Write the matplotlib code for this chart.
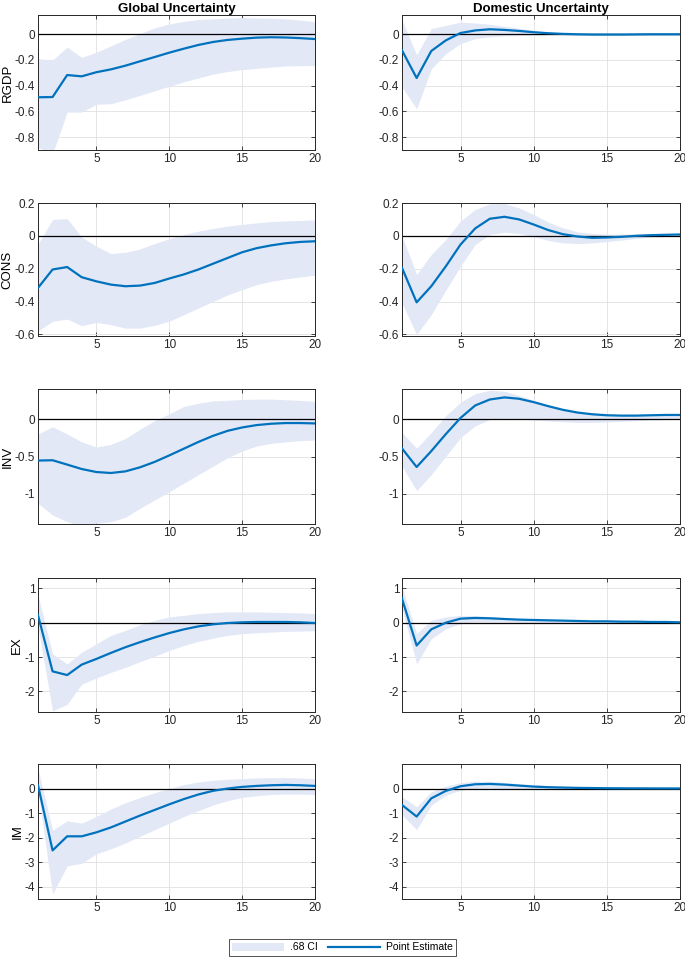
import numpy as np
import matplotlib
matplotlib.use("Agg")
import matplotlib.pyplot as plt
from matplotlib.patches import Patch
from matplotlib.lines import Line2D

plt.rcParams['font.family'] = ['Liberation Sans', 'DejaVu Sans']

horizon = np.arange(1, 21)
variables = ["RGDP", "CONS", "INV", "EX", "IM"]
columns = ["Global Uncertainty", "Domestic Uncertainty"]

# RGDP
rgdp_glob_mid = [-0.49, -0.488, -0.317, -0.327, -0.295, -0.273, -0.244, -0.21, -0.177, -0.143,
                 -0.112, -0.083, -0.06, -0.044, -0.034, -0.026, -0.023, -0.025, -0.03, -0.037]
rgdp_glob_hi = [-0.19, -0.2, -0.1, -0.18, -0.14, -0.09, -0.04, 0.005, 0.05, 0.08,
                0.1, 0.115, 0.12, 0.125, 0.13, 0.127, 0.125, 0.12, 0.11, 0.1]
rgdp_glob_lo = [-0.88, -0.93, -0.605, -0.605, -0.545, -0.54, -0.51, -0.475, -0.44, -0.405,
                -0.37, -0.34, -0.31, -0.29, -0.275, -0.265, -0.255, -0.247, -0.244, -0.244]
rgdp_dom_mid = [-0.125, -0.34, -0.13, -0.047, 0.01, 0.03, 0.039, 0.034, 0.026, 0.016,
                0.008, 0.003, 0.0, -0.002, -0.002, -0.002, -0.001, 0.0, 0.0, 0.0]
rgdp_dom_hi = [0.11, -0.16, 0.044, 0.07, 0.094, 0.088, 0.078, 0.062, 0.047, 0.031,
               0.018, 0.01, 0.005, 0.003, 0.003, 0.003, 0.003, 0.003, 0.003, 0.003]
rgdp_dom_lo = [-0.41, -0.58, -0.27, -0.15, -0.073, -0.034, -0.02, -0.013, -0.01, -0.008,
               -0.005, -0.004, -0.004, -0.004, -0.004, -0.004, -0.003, -0.003, -0.003, -0.003]

# CONS
cons_glob_mid = [-0.317, -0.205, -0.19, -0.252, -0.277, -0.297, -0.307, -0.303, -0.287, -0.26,
                 -0.235, -0.205, -0.17, -0.135, -0.1, -0.075, -0.058, -0.045, -0.037, -0.033]
cons_glob_hi = [-0.05, 0.1, 0.105, -0.008, -0.063, -0.108, -0.1, -0.08, -0.047, -0.018,
                0.008, 0.028, 0.045, 0.059, 0.069, 0.079, 0.087, 0.091, 0.094, 0.098]
cons_glob_lo = [-0.58, -0.52, -0.507, -0.547, -0.527, -0.541, -0.562, -0.562, -0.545, -0.52,
                -0.48, -0.44, -0.4, -0.36, -0.328, -0.297, -0.277, -0.262, -0.25, -0.24]
cons_dom_mid = [-0.195, -0.405, -0.307, -0.185, -0.053, 0.045, 0.104, 0.116, 0.1, 0.069,
                0.035, 0.01, -0.004, -0.012, -0.01, -0.006, 0.0, 0.004, 0.006, 0.008]
cons_dom_hi = [0.0, -0.236, -0.114, -0.022, 0.09, 0.16, 0.195, 0.197, 0.17, 0.13,
               0.083, 0.049, 0.024, 0.014, 0.01, 0.01, 0.012, 0.014, 0.016, 0.018]
cons_dom_lo = [-0.41, -0.6, -0.48, -0.33, -0.185, -0.053, 0.008, 0.022, 0.014, -0.006,
               -0.028, -0.043, -0.047, -0.043, -0.035, -0.026, -0.016, -0.008, -0.004, -0.002]

# INV
inv_glob_mid = [-0.554, -0.55, -0.608, -0.667, -0.707, -0.72, -0.698, -0.644, -0.572, -0.486,
                -0.396, -0.306, -0.225, -0.158, -0.113, -0.081, -0.063, -0.054, -0.054, -0.059]
inv_glob_hi = [-0.2, -0.104, -0.2, -0.306, -0.374, -0.338, -0.26, -0.135, -0.023, 0.068,
               0.167, 0.21, 0.24, 0.25, 0.26, 0.265, 0.265, 0.257, 0.248, 0.234]
inv_glob_lo = [-1.126, -1.28, -1.37, -1.43, -1.39, -1.37, -1.31, -1.19, -1.08, -0.97,
               -0.856, -0.743, -0.63, -0.518, -0.428, -0.36, -0.324, -0.306, -0.288, -0.28]
inv_dom_mid = [-0.392, -0.64, -0.428, -0.2, 0.014, 0.18, 0.26, 0.288, 0.27, 0.225,
               0.171, 0.122, 0.086, 0.063, 0.05, 0.045, 0.045, 0.05, 0.054, 0.054]
inv_dom_hi = [-0.18, -0.39, -0.18, 0.045, 0.225, 0.338, 0.383, 0.37, 0.315, 0.248,
              0.18, 0.126, 0.09, 0.068, 0.059, 0.054, 0.054, 0.059, 0.059, 0.063]
inv_dom_lo = [-0.63, -0.955, -0.743, -0.495, -0.248, -0.09, -0.009, 0.009, 0.0, -0.014,
              -0.027, -0.036, -0.045, -0.045, -0.04, -0.032, -0.023, -0.014, -0.009, -0.005]

# EX
ex_glob_mid = [0.215, -1.417, -1.525, -1.22, -1.056, -0.88, -0.714, -0.567, -0.43, -0.303,
               -0.195, -0.108, -0.049, -0.01, 0.01, 0.02, 0.02, 0.02, 0.01, -0.01]
ex_glob_hi = [0.8, -0.91, -1.2, -0.86, -0.616, -0.37, -0.225, -0.059, 0.068, 0.166,
              0.215, 0.264, 0.293, 0.313, 0.313, 0.313, 0.303, 0.293, 0.283, 0.264]
ex_glob_lo = [-0.127, -2.57, -2.375, -1.79, -1.61, -1.447, -1.3, -1.134, -0.978, -0.81,
              -0.665, -0.547, -0.45, -0.371, -0.322, -0.293, -0.274, -0.254, -0.244, -0.235]
ex_dom_mid = [0.7, -0.665, -0.195, 0.0, 0.117, 0.137, 0.127, 0.107, 0.088, 0.078,
              0.068, 0.059, 0.049, 0.039, 0.039, 0.03, 0.03, 0.02, 0.02, 0.01]
ex_dom_hi = [1.05, -0.32, 0.07, 0.166, 0.215, 0.205, 0.176, 0.147, 0.117, 0.098,
             0.088, 0.078, 0.068, 0.059, 0.049, 0.04, 0.035, 0.03, 0.028, 0.025]
ex_dom_lo = [0.41, -1.2, -0.47, -0.176, -0.03, 0.02, 0.02, 0.02, 0.01, 0.005,
             0.005, 0.004, 0.003, 0.002, 0.001, 0.0, 0.0, 0.0, -0.002, -0.003]

# IM
im_glob_mid = [0.134, -2.52, -1.946, -1.946, -1.785, -1.584, -1.342, -1.1, -0.872, -0.644,
               -0.43, -0.242, -0.094, 0.0, 0.067, 0.107, 0.134, 0.148, 0.134, 0.107]
im_glob_hi = [0.8, -1.7, -1.315, -1.41, -1.14, -0.832, -0.577, -0.362, -0.174, 0.0,
              0.161, 0.268, 0.336, 0.376, 0.403, 0.43, 0.443, 0.443, 0.43, 0.403]
im_glob_lo = [-0.067, -4.3, -3.15, -3.05, -2.66, -2.456, -2.215, -1.946, -1.678, -1.41,
              -1.14, -0.9, -0.671, -0.497, -0.362, -0.295, -0.242, -0.228, -0.228, -0.242]
im_dom_mid = [-0.67, -1.14, -0.4, -0.094, 0.094, 0.174, 0.188, 0.161, 0.12, 0.08,
              0.054, 0.04, 0.027, 0.02, 0.013, 0.01, 0.008, 0.006, 0.005, 0.004]
im_dom_hi = [-0.335, -0.74, -0.134, 0.094, 0.24, 0.295, 0.295, 0.255, 0.2, 0.16,
             0.12, 0.094, 0.08, 0.067, 0.054, 0.04, 0.035, 0.03, 0.027, 0.025]
im_dom_lo = [-1.07, -1.68, -0.67, -0.27, -0.067, 0.0, 0.0, -0.013, -0.02, -0.02,
             -0.018, -0.015, -0.013, -0.01, -0.008, -0.006, -0.005, -0.004, -0.003, -0.002]

panels = [
    [(rgdp_glob_lo, rgdp_glob_mid, rgdp_glob_hi), (rgdp_dom_lo, rgdp_dom_mid, rgdp_dom_hi)],
    [(cons_glob_lo, cons_glob_mid, cons_glob_hi), (cons_dom_lo, cons_dom_mid, cons_dom_hi)],
    [(inv_glob_lo, inv_glob_mid, inv_glob_hi), (inv_dom_lo, inv_dom_mid, inv_dom_hi)],
    [(ex_glob_lo, ex_glob_mid, ex_glob_hi), (ex_dom_lo, ex_dom_mid, ex_dom_hi)],
    [(im_glob_lo, im_glob_mid, im_glob_hi), (im_dom_lo, im_dom_mid, im_dom_hi)],
]
ylims = [(-0.9, 0.15), (-0.61, 0.2), (-1.4, 0.4), (-2.6, 1.3), (-4.5, 1.0)]
yticks = [[-0.8, -0.6, -0.4, -0.2, 0], [-0.6, -0.4, -0.2, 0, 0.2], [-1, -0.5, 0],
          [-2, -1, 0, 1], [-4, -3, -2, -1, 0]]

band_color = '#E3E8F7'
line_color = '#0072BD'

fig = plt.figure(figsize=(6.85, 9.6), dpi=100)
W, H = 685.0, 960.0
col_x = [(38, 315), (402, 680)]
row_y = [(15, 150), (203, 336), (389, 524), (578, 712), (764, 899)]

for r in range(5):
    for c in range(2):
        x0, x1 = col_x[c]
        y0, y1 = row_y[r]
        ax = fig.add_axes([x0 / W, 1 - y1 / H, (x1 - x0) / W, (y1 - y0) / H])
        lo, mid, hi = panels[r][c]
        ax.fill_between(horizon, lo, hi, color=band_color, lw=0, zorder=1)
        ax.axhline(0, color='black', lw=0.9, zorder=2)
        ax.plot(horizon, mid, color=line_color, lw=1.6, zorder=3)
        ax.set_xlim(1, 20)
        ax.set_ylim(*ylims[r])
        ax.set_xticks([5, 10, 15, 20])
        ax.set_yticks(yticks[r])
        ax.set_yticklabels([f"{v:g}" for v in yticks[r]])
        ax.grid(True, color='#e0e0e0', lw=0.6, zorder=0)
        ax.set_axisbelow(True)
        ax.tick_params(direction='in', length=3, width=0.6, labelsize=8.5,
                       top=True, right=True, pad=2, colors='#262626')
        for s in ax.spines.values():
            s.set_color('#262626')
            s.set_linewidth(0.7)
        if c == 0:
            ax.set_ylabel(variables[r], fontsize=9.5, labelpad=1)
        if r == 0:
            ax.set_title(columns[c], fontsize=9.5, fontweight='bold', pad=2)

handles = [Patch(facecolor=band_color, edgecolor='none', label='.68 CI'),
           Line2D([0], [0], color=line_color, lw=1.6, label='Point Estimate')]
fig.legend(handles=handles, loc='center', bbox_to_anchor=(0.5, 1 - 947.5 / H), ncol=2,
           fontsize=7.5, frameon=True, fancybox=False, edgecolor='#262626',
           handlelength=5.0, handleheight=0.9, columnspacing=1.0, borderpad=0.3,
           handletextpad=0.6)
fig.legends[0].get_frame().set_linewidth(0.7)

fig.savefig('out.png', dpi=100)
